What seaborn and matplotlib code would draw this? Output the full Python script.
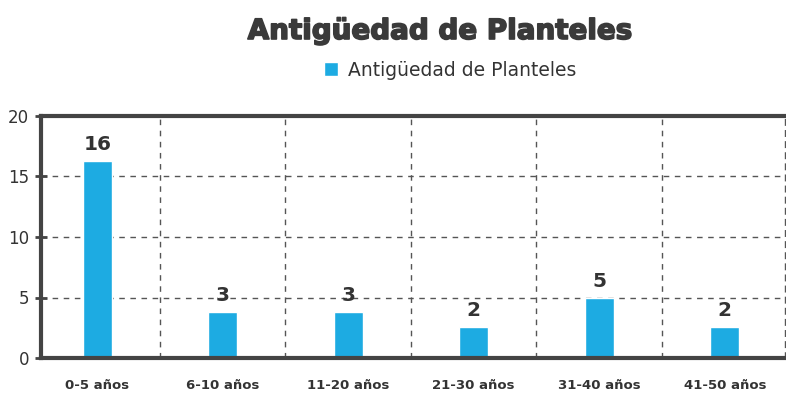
import matplotlib
matplotlib.use("Agg")
import matplotlib.pyplot as plt
import matplotlib.patheffects as pe
import seaborn as sns
import pandas as pd

categories = ["0-5 años", "6-10 años", "11-20 años", "21-30 años", "31-40 años", "41-50 años"]
values = [16.3, 3.8, 3.8, 2.6, 5.0, 2.6]
value_labels = ["16", "3", "3", "2", "5", "2"]
series_name = "Antigüedad de Planteles"
title = "Antigüedad de Planteles"
y_ticks = [0, 5, 10, 15, 20]

sns.set_theme(style="white")
plt.rcParams["font.family"] = ["DejaVu Sans"]

df = pd.DataFrame({"cat": categories, "val": values})

fig = plt.figure(figsize=(7.86, 4.01), dpi=100)
ax = fig.add_axes([41/786, 1 - 358/401, (785 - 41)/786, (358 - 116)/401])

bar_color = "#1DABE2"
sns.barplot(data=df, x="cat", y="val", color=bar_color, width=0.23,
            label=series_name, ax=ax, saturation=1)

ax.set_xlim(-0.448, 5.48)
ax.set_ylim(0, 20)
ax.set_yticks(y_ticks)
ax.set_yticklabels([str(t) for t in y_ticks], fontsize=12, color="#333333")
ax.set_xlabel("")
ax.set_ylabel("")

# grid
ax.set_xticks([0.5, 1.5, 2.5, 3.5, 4.5], minor=True)
ax.grid(False)
ax.grid(axis="y", which="major", color="#555555", linestyle=(0, (4, 4)), linewidth=1)
ax.grid(axis="x", which="minor", color="#555555", linestyle=(0, (4, 4)), linewidth=1)
ax.set_axisbelow(True)

ax.tick_params(axis="x", which="minor", length=0)
ax.tick_params(axis="x", which="major", length=0, pad=15)
ax.tick_params(axis="y", which="major", direction="inout", length=9, width=2,
               color="#444444", pad=4, left=True)
for lbl in ax.get_xticklabels():
    lbl.set_fontsize(9.5)
    lbl.set_fontweight("bold")
    lbl.set_color("#333333")

for side in ["left", "top", "bottom"]:
    ax.spines[side].set_visible(True)
    ax.spines[side].set_color("#444444")
    ax.spines[side].set_linewidth(3)
ax.spines["right"].set_visible(True)
ax.spines["right"].set_color("#555555")
ax.spines["right"].set_linewidth(1)
ax.spines["right"].set_linestyle((0, (4, 4)))

ax.bar_label(ax.containers[0], labels=value_labels, padding=5,
             fontsize=14.5, fontweight="bold", color="#333333")

fig.text(440/786, 1 - 31/401, title, ha="center", va="center",
         fontsize=20, fontweight="bold", color="#3a3a3a",
         path_effects=[pe.withStroke(linewidth=1.2, foreground="#3a3a3a")])

leg = ax.legend(loc="center", bbox_to_anchor=(450/786, 1 - 70/401),
                bbox_transform=fig.transFigure, frameon=False,
                handlelength=0.75, handleheight=0.75, handletextpad=0.5,
                fontsize=13.5)
for t in leg.get_texts():
    t.set_color("#333333")

fig.savefig("out.png", dpi=100)
